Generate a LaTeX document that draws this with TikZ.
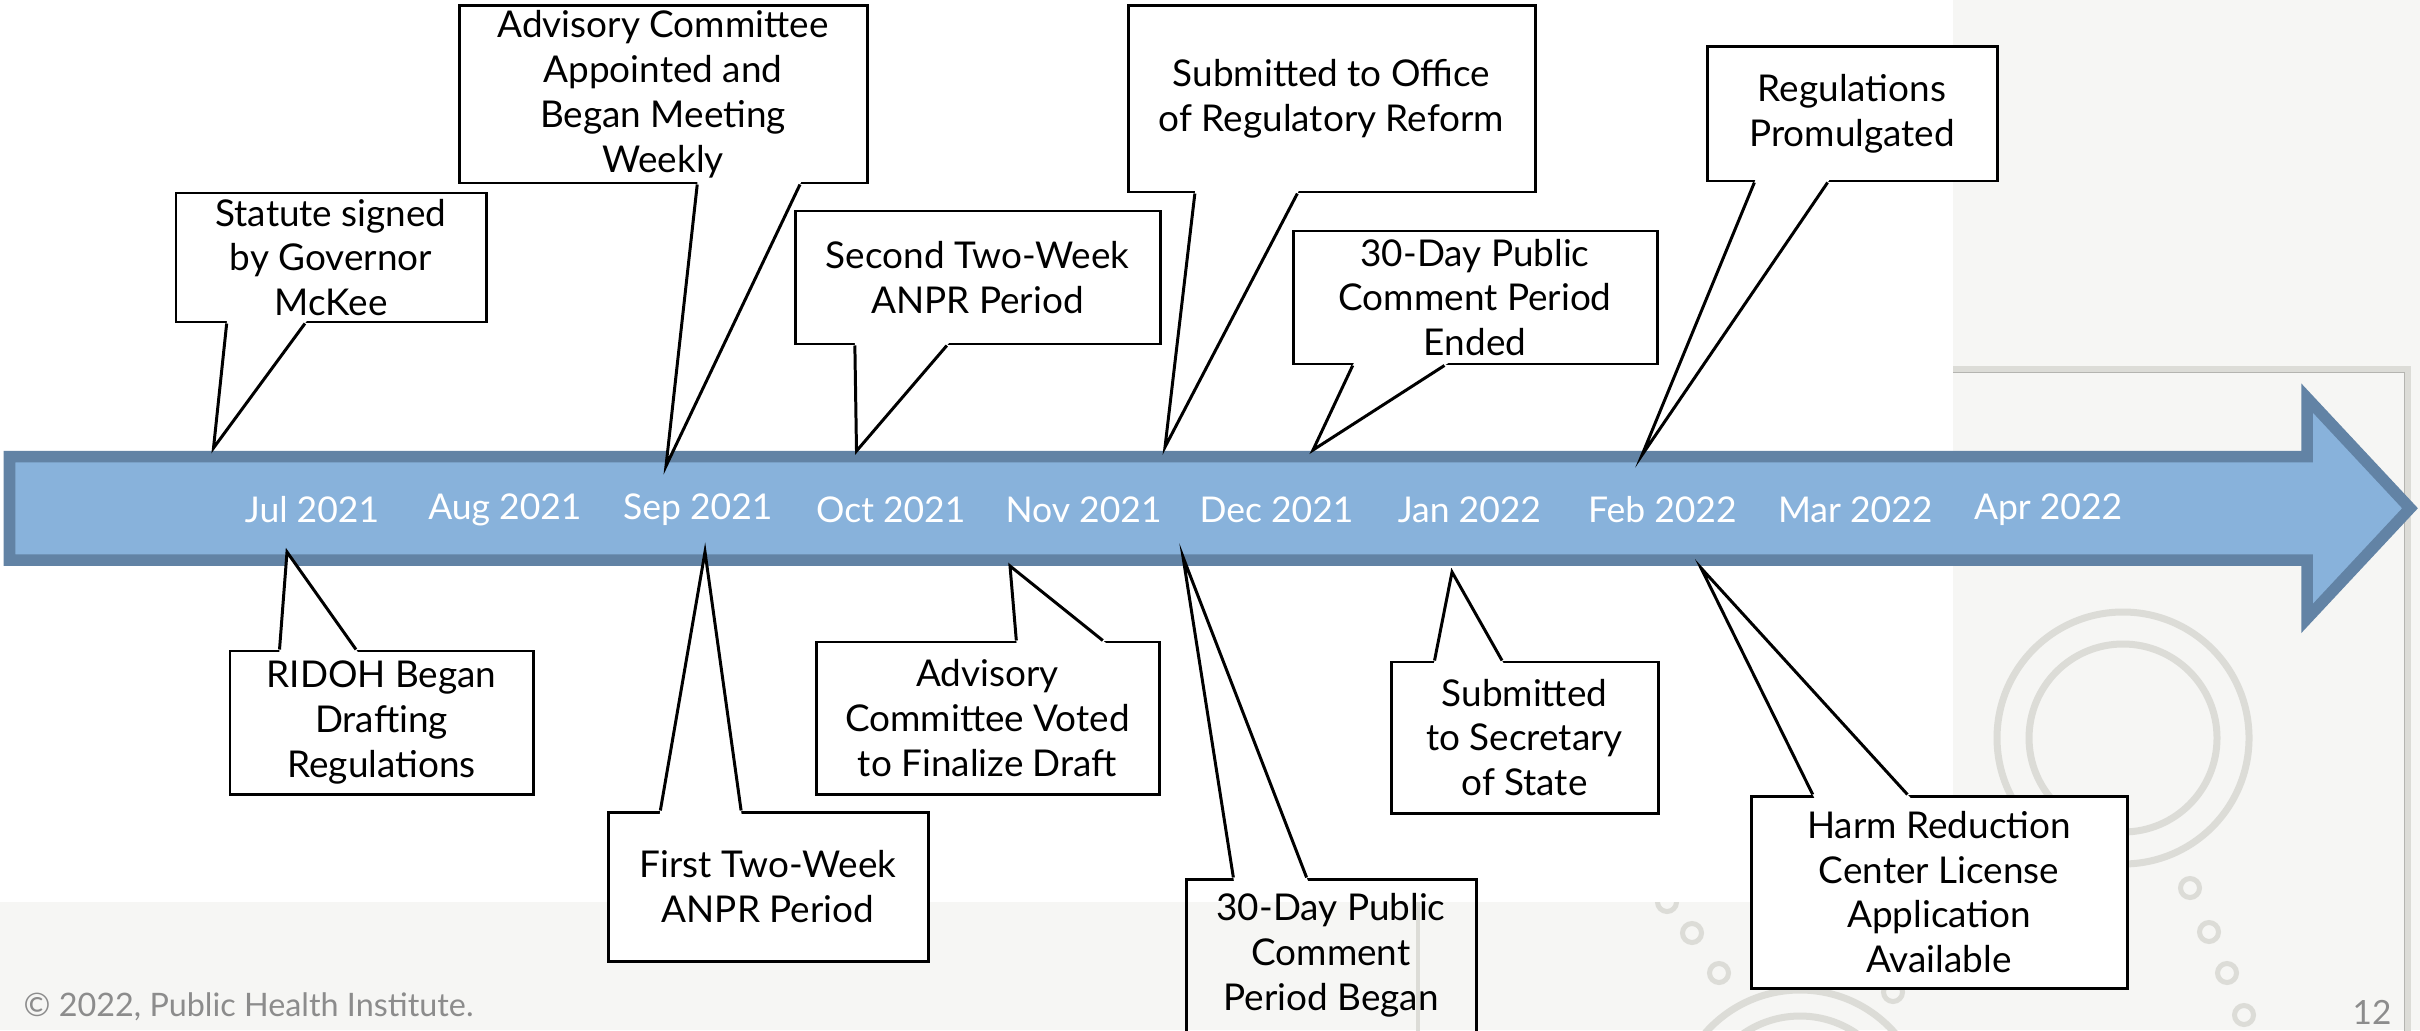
\documentclass[tikz,border=0pt]{standalone}
\usepackage{fontspec}
\setmainfont{Lato}
\usetikzlibrary{calc}

\definecolor{arrowfill}{HTML}{88B2DB}
\definecolor{arrowline}{HTML}{6283A5}
\definecolor{slidegray}{HTML}{F6F6F4}
\definecolor{decogray}{HTML}{DCDCD7}
\definecolor{edgegray}{HTML}{B4B4B0}
\definecolor{footgray}{HTML}{8C8C8C}

\begin{document}
\begin{tikzpicture}[
    callbox/.style={draw=black, fill=white, line width=0.85pt, align=center, inner sep=0pt,
                    font=\fontsize{10.5}{12.75}\selectfont},
    month/.style={text=white, inner sep=0pt, font=\fontsize{10.1}{12}\selectfont},
    deco/.style={draw=decogray, line width=0.7mm},
    ring/.style={draw=decogray, line width=0.5mm}
]
\useasboundingbox (0,0) rectangle (24.2,10.3);

% Slide background
\fill[slidegray] (0,0) rectangle (24.2,10.3);

% Frame on the right
\draw[decogray, line width=0.6mm] (19.40,6.605) -- (24.08,6.605) -- (24.08,-0.1);
\draw[edgegray, line width=0.1mm] (19.40,6.573) -- (24.045,6.573) -- (24.045,-0.1);
\draw[decogray, line width=0.4mm] (14.18,1.40) -- (14.18,-0.1);

% Concentric circles
\draw[deco] (21.23,2.92) circle (1.26);
\draw[deco] (21.23,2.92) circle (0.94);
\draw[deco] (18.00,-0.86) circle (1.26);
\draw[deco] (18.00,-0.86) circle (1.00);

% Small rings
\foreach \x/\y in {16.67/1.28, 16.92/0.97, 17.19/0.57, 18.93/0.38,
                   21.90/1.42, 22.09/0.98, 22.27/0.57, 22.44/0.15}
    \draw[ring] (\x,\y) circle (0.095);

% White content area
\fill[white] (0,1.28) rectangle (19.53,10.3);

% Timeline arrow
\draw[arrowline, fill=arrowfill, line width=0.115cm]
    (0.095,5.735) -- (23.07,5.735) -- (23.07,6.32) -- (24.10,5.2175)
    -- (23.07,4.115) -- (23.07,4.70) -- (0.095,4.70) -- cycle;

% Months
\foreach \m [count=\i from 0] in {Jul 2021, Aug 2021, Sep 2021, Oct 2021, Nov 2021,
                                   Dec 2021, Jan 2022, Feb 2022, Mar 2022, Apr 2022}
    \node[month] (m\i) at (3.12+1.929*\i, 5.20) {\m};

% Callouts above the arrow
\node[callbox, minimum width=3.10cm, minimum height=1.29cm] (statute) at (3.31,7.725)
    {Statute signed\\by Governor\\McKee};
\coordinate (statute-tip) at (2.135,5.82);

\node[callbox, minimum width=4.08cm, minimum height=1.77cm] (appointed) at (6.63,9.355)
    {Advisory Committee\\Appointed and\\Began Meeting\\Weekly};
\coordinate (appointed-tip) at (6.66,5.64);

\node[callbox, minimum width=3.65cm, minimum height=1.33cm] (second) at (9.775,7.525)
    {Second Two-Week\\ANPR Period};
\coordinate (second-tip) at (8.565,5.79);

\node[callbox, minimum width=4.07cm, minimum height=1.86cm] (office) at (13.315,9.31)
    {Submitted to Office\\of Regulatory Reform};
\coordinate (office-tip) at (11.65,5.83);

\node[callbox, minimum width=3.64cm, minimum height=1.33cm] (ended) at (14.75,7.325)
    {30-Day Public\\Comment Period\\Ended};
\coordinate (ended-tip) at (13.13,5.80);

\node[callbox, minimum width=2.90cm, minimum height=1.34cm] (promulgated) at (18.52,9.16)
    {Regulations\\Promulgated};
\coordinate (promulgated-tip) at (16.42,5.75);

% Callouts below the arrow
\node[callbox, minimum width=3.03cm, minimum height=1.43cm] (ridoh) at (3.815,3.075)
    {RIDOH Began\\Drafting\\Regulations};
\coordinate (ridoh-tip) at (2.87,4.78);

\node[callbox, minimum width=3.20cm, minimum height=1.49cm] (first) at (7.68,1.435)
    {First Two-Week\\ANPR Period};
\coordinate (first-tip) at (7.05,4.78);

\node[callbox, minimum width=3.43cm, minimum height=1.52cm] (voted) at (9.875,3.12)
    {Advisory\\Committee Voted\\to Finalize Draft};
\coordinate (voted-tip) at (10.10,4.64);

\node[callbox, fill=none, minimum width=2.90cm, minimum height=1.53cm] (began) at (13.31,0.745)
    {30-Day Public\\Comment\\Period Began};
\coordinate (began-tip) at (11.83,4.73);

\node[callbox, minimum width=2.67cm, minimum height=1.51cm] (secretary) at (15.245,2.925)
    {Submitted\\to Secretary\\of State};
\coordinate (secretary-tip) at (14.52,4.58);

\node[callbox, minimum width=3.76cm, minimum height=1.92cm] (harm) at (19.39,1.38)
    {Harm Reduction\\Center License\\Application\\Available};
\coordinate (harm-tip) at (17.01,4.62);

% Pointers
\foreach \b/\f/\g in {statute/0.1667/0.4167, appointed/0.5833/0.8333, second/0.1667/0.4167,
                      office/0.1667/0.4167, ended/0.1667/0.4167, promulgated/0.1667/0.4167}
{
    \coordinate (pa) at ($(\b.south west)!\f!(\b.south east)$);
    \coordinate (pb) at ($(\b.south west)!\g!(\b.south east)$);
    \fill[white] ($(pa)!-2pt!(\b-tip)$) -- (\b-tip) -- ($(pb)!-2pt!(\b-tip)$) -- cycle;
    \draw[line width=0.85pt] (pa) -- (\b-tip) -- (pb);
}
\foreach \b/\f/\g in {ridoh/0.1667/0.4167, first/0.1667/0.4167, voted/0.5833/0.8333,
                      began/0.1667/0.4167, secretary/0.1667/0.4167, harm/0.1667/0.4167}
{
    \coordinate (pa) at ($(\b.north west)!\f!(\b.north east)$);
    \coordinate (pb) at ($(\b.north west)!\g!(\b.north east)$);
    \fill[white] ($(pa)!-2pt!(\b-tip)$) -- (\b-tip) -- ($(pb)!-2pt!(\b-tip)$) -- cycle;
    \draw[line width=0.85pt] (pa) -- (\b-tip) -- (pb);
}

% Footer
\node[text=footgray, anchor=west, inner sep=0pt, font=\fontsize{9.2}{11}\selectfont] (copyright) at (0.23,0.23)
    {© 2022, Public Health Institute.};
\node[text=footgray, inner sep=0pt, font=\fontsize{9.5}{11}\selectfont] (pagenum) at (23.72,0.18) {12};

\end{tikzpicture}
\end{document}
